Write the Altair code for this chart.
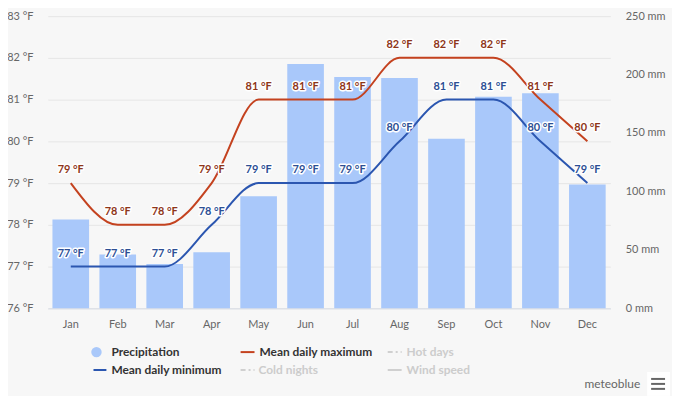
import altair as alt
import pandas as pd

months = ["Jan", "Feb", "Mar", "Apr", "May", "Jun", "Jul", "Aug", "Sep", "Oct", "Nov", "Dec"]
precip_mm = [76, 46, 38, 48, 96, 209, 198, 197, 145, 181, 184, 106]
temp_max = [79, 78, 78, 79, 81, 81, 81, 82, 82, 82, 81, 80]
temp_min = [77, 77, 77, 78, 79, 79, 79, 80, 81, 81, 80, 79]
left_ticks = [76, 77, 78, 79, 80, 81, 82, 83]
right_ticks = [0, 50, 100, 150, 200, 250]

FONT = "Lato"
BAR = "#a9c8fa"
MAXC = "#c4421f"
MAXT = "#8e3619"
MINC = "#2b56b0"
MINT = "#2d4f94"

df = pd.DataFrame({"month": months, "precip": precip_mm, "tmax": temp_max, "tmin": temp_min})
df["lmax"] = df["tmax"].astype(str) + " °F"
df["lmin"] = df["tmin"].astype(str) + " °F"

xenc = alt.X("month:N", sort=months,
             scale=alt.Scale(paddingInner=0.22, paddingOuter=0.1),
             axis=alt.Axis(title=None, labelAngle=0, domainColor="#d8dde6", ticks=False,
                           labelColor="#666666", labelFontSize=11, labelPadding=10, labelFont=FONT))

base = alt.Chart(df)

bars = base.mark_bar(color=BAR).encode(
    x=xenc,
    y=alt.Y("precip:Q", scale=alt.Scale(domain=[0, 250], nice=False),
            axis=alt.Axis(orient="right", values=right_ticks, labelExpr="datum.value + ' mm'",
                          grid=False, domain=False, ticks=False, labelPadding=15, title=None,
                          labelColor="#666666", labelFontSize=11, labelFont=FONT, labelAlign="left")),
)

yscale = alt.Scale(domain=[76, 83], nice=False, zero=False)
yaxis = alt.Axis(orient="left", values=left_ticks, labelExpr="datum.value + ' °F'", grid=True,
                 gridColor="#e6e6e6", domain=False, ticks=False, labelPadding=15, title=None,
                 labelColor="#666666", labelFontSize=11, labelFont=FONT)

xb = alt.X("month:N", sort=months, bandPosition=0.5)

line_max = base.mark_line(color=MAXC, strokeWidth=2, interpolate="monotone").encode(
    x=xb, y=alt.Y("tmax:Q", scale=yscale, axis=yaxis))
line_min = base.mark_line(color=MINC, strokeWidth=2, interpolate="monotone").encode(
    x=xb, y=alt.Y("tmin:Q", scale=yscale, title=None))

def labels(field, lab, color):
    halo = base.mark_text(dy=-13, font=FONT, fontSize=11, fontWeight="bold", fill="white",
                          stroke="white", strokeWidth=3, strokeJoin="round").encode(
        x=xb, y=alt.Y(f"{field}:Q", scale=yscale, title=None), text=f"{lab}:N")
    txt = base.mark_text(dy=-13, font=FONT, fontSize=11, fontWeight="bold", color=color).encode(
        x=xb, y=alt.Y(f"{field}:Q", scale=yscale, title=None), text=f"{lab}:N")
    return [halo, txt]

temps = alt.layer(line_max, line_min, *labels("tmax", "lmax", MAXT), *labels("tmin", "lmin", MINT))

one = alt.Chart(pd.DataFrame({"a": [0]}))

def leg_text(txt, x, y, color="#333333"):
    return one.mark_text(text=txt, align="left", baseline="middle", font=FONT, fontSize=12,
                         fontWeight="bold", color=color).encode(x=alt.value(x), y=alt.value(y))

def leg_line(x1, x2, y, color, dash=None):
    kw = dict(color=color, strokeWidth=2)
    if dash:
        kw["strokeDash"] = dash
    return one.mark_rule(**kw).encode(x=alt.value(x1), x2=alt.value(x2), y=alt.value(y))

legend = [
    one.mark_point(shape="circle", filled=True, color=BAR, size=110, opacity=1).encode(
        x=alt.value(49), y=alt.value(338)),
    leg_text("Precipitation", 64, 338),
    leg_line(46, 59, 356, MINC),
    leg_text("Mean daily minimum", 64, 356),
    leg_line(194, 208, 338, MAXC),
    leg_text("Mean daily maximum", 213, 338),
    leg_line(194, 208, 356, "#d0d0d0", [5, 3, 2, 3]),
    leg_text("Cold nights", 212, 356, "#cccccc"),
    leg_line(342, 356, 338, "#d0d0d0", [5, 3, 2, 3]),
    leg_text("Hot days", 361, 338, "#cccccc"),
    leg_line(342, 356, 356, "#d0d0d0"),
    leg_text("Wind speed", 361, 356, "#cccccc"),
    one.mark_text(text="meteoblue", align="right", baseline="middle", font=FONT, fontSize=12,
                  color="#666666").encode(x=alt.value(596), y=alt.value(370)),
    one.mark_rect(color="#ffffff").encode(x=alt.value(603), x2=alt.value(626),
                                          y=alt.value(358), y2=alt.value(382)),
    leg_line(607, 621, 365, "#666666"),
    leg_line(607, 621, 370, "#666666"),
    leg_line(607, 621, 375, "#666666"),
]

chart = alt.layer(bars, temps).resolve_scale(y="independent")
chart = alt.layer(chart, *legend).properties(
    width=566, height=294,
    autosize=alt.AutoSizeParams(type="none"),
    padding={"left": 40, "top": 7, "right": 62, "bottom": 87},
    background="#f7f7f7",
).configure_view(stroke=None)

chart.save("out.html", embed_options={"renderer": "svg", "actions": False})
